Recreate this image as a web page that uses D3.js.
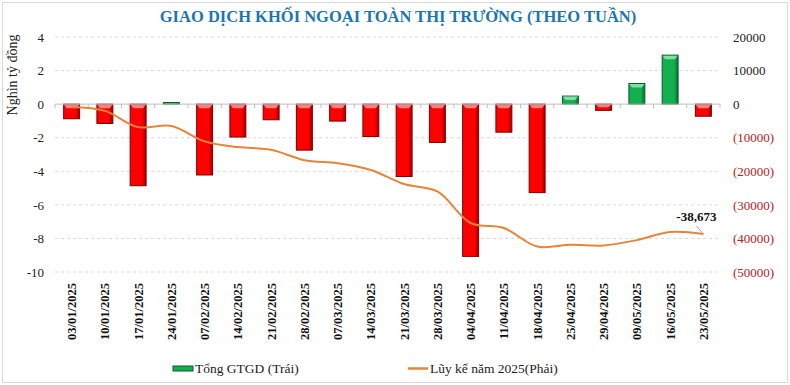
<!DOCTYPE html>
<html>
<head>
<meta charset="utf-8">
<script src="https://cdn.jsdelivr.net/npm/d3@7"></script>
<style>
  html, body { margin: 0; padding: 0; background: #fff; }
  svg { display: block; }
  svg text { font-family: "Liberation Serif", "DejaVu Serif", serif; }
</style>
</head>
<body>
<svg id="chart" width="790" height="385"></svg>
<script>
// weekly data
const weeks = ["03/01/2025", "10/01/2025", "17/01/2025", "24/01/2025", "07/02/2025",
    "14/02/2025", "21/02/2025", "28/02/2025", "07/03/2025", "14/03/2025",
    "21/03/2025", "28/03/2025", "04/04/2025", "11/04/2025", "18/04/2025",
    "25/04/2025", "29/04/2025", "09/05/2025", "16/05/2025", "23/05/2025"];

// Tổng GTGD, nghìn tỷ đồng (left axis)
const netValue = [-0.87, -1.15, -4.86, 0.1, -4.22, -1.96, -0.93, -2.74, -1.01, -1.93,
    -4.31, -2.28, -9.07, -1.67, -5.27, 0.48, -0.37, 1.23, 2.92, -0.72];

// Lũy kế năm 2025, tỷ đồng (right axis)
const cumulative = [-850, -2000, -6850, -6500, -11100, -12800, -13600, -16700, -17600, -19600,
    -23800, -26000, -35400, -36900, -42400, -41900, -42100, -40500, -38100, -38673];

const leftTicks = [4, 2, 0, -2, -4, -6, -8, -10];
const rightTicks = [20000, 10000, 0, -10000, -20000, -30000, -40000, -50000];

const svg = d3.select("#chart");
const W = 790, H = 385;
const plot = { left: 55, right: 720, top: 37, bottom: 272 };
const FONT = "Liberation Serif, DejaVu Serif, serif";

// frame
svg.append("rect")
    .attr("x", 2.5).attr("y", 2.5)
    .attr("width", W - 5).attr("height", H - 5)
    .attr("fill", "#fff").attr("stroke", "#d9d9d9");

// title
svg.append("text")
    .attr("x", 398).attr("y", 22)
    .attr("text-anchor", "middle")
    .attr("font-size", 16.5).attr("font-weight", "bold")
    .attr("fill", "#1b75b3")
    .text("GIAO DỊCH KHỐI NGOẠI TOÀN THỊ TRƯỜNG (THEO TUẦN)");

const x = d3.scaleBand().domain(weeks).range([plot.left, plot.right]).paddingInner(0.52).paddingOuter(0.26);
const xb = d3.scaleBand().domain(weeks).range([plot.left, plot.right]);
const yL = d3.scaleLinear().domain([-10, 4]).range([plot.bottom, plot.top]);
const yR = d3.scaleLinear().domain([-50000, 20000]).range([plot.bottom, plot.top]);

// gridlines
svg.append("g")
    .selectAll("line")
    .data(leftTicks.filter(d => d !== 0))
    .enter().append("line")
    .attr("x1", plot.left).attr("x2", plot.right)
    .attr("y1", d => yL(d)).attr("y2", d => yL(d))
    .attr("stroke", "#d9d9d9").attr("stroke-dasharray", "3,3");

// left axis
const leftAxis = svg.append("g")
    .attr("transform", `translate(${plot.left},0)`)
    .call(d3.axisLeft(yL).tickValues(leftTicks).tickSize(0).tickPadding(11)
        .tickFormat(d => d < 0 ? "-" + (-d) : "" + d));
leftAxis.attr("font-family", FONT);
leftAxis.select(".domain").remove();
leftAxis.selectAll("text").attr("font-size", 13).attr("fill", "#222");

svg.append("text")
    .attr("transform", "translate(17,75) rotate(-90)")
    .attr("text-anchor", "middle")
    .attr("font-size", 14).attr("fill", "#222")
    .text("Nghìn tỷ đồng");

// right axis
const rightAxis = svg.append("g")
    .attr("transform", `translate(${plot.right},0)`)
    .call(d3.axisRight(yR).tickValues(rightTicks).tickSize(0).tickPadding(13)
        .tickFormat(d => d < 0 ? `(${-d})` : `${d}`));
rightAxis.attr("font-family", FONT);
rightAxis.select(".domain").remove();
rightAxis.selectAll("text")
    .attr("font-size", 13)
    .attr("fill", d => d < 0 ? "#b22222" : "#222");

// gradients for bevelled bars
const defs = svg.append("defs");
function barGrad(id, edge, mid) {
    const g = defs.append("linearGradient").attr("id", id).attr("x1", "0").attr("x2", "1");
    g.append("stop").attr("offset", "0").attr("stop-color", mid);
    g.append("stop").attr("offset", "0.75").attr("stop-color", mid);
    g.append("stop").attr("offset", "1").attr("stop-color", edge);
}
barGrad("gRed", "#a00000", "#ff0000");
barGrad("gGreen", "#0a6b34", "#12b04f");

// bars
const bars = svg.append("g")
    .selectAll("g")
    .data(weeks.map((w, i) => ({ week: w, value: netValue[i] })))
    .enter().append("g");

bars.append("rect")
    .attr("x", d => x(d.week))
    .attr("y", d => yL(Math.max(0, d.value)))
    .attr("width", x.bandwidth())
    .attr("height", d => Math.abs(yL(d.value) - yL(0)))
    .attr("fill", d => d.value < 0 ? "url(#gRed)" : "url(#gGreen)")
    .attr("stroke", d => d.value < 0 ? "#7a0000" : "#0b5a2c")
    .attr("stroke-width", 1);

// top bevel highlight
bars.append("path")
    .attr("d", d => {
        const x0 = x(d.week), bw = x.bandwidth();
        const top = yL(Math.max(0, d.value));
        const h = Math.min(4, Math.abs(yL(d.value) - yL(0)) / 2);
        return `M${x0 + 0.5},${top + 0.5}L${x0 + bw - 0.5},${top + 0.5}L${x0 + bw - 3},${top + h}L${x0 + 3},${top + h}Z`;
    })
    .attr("fill", d => d.value < 0 ? "#ff8080" : "#7fe0a0");

// zero line with category ticks
svg.append("line")
    .attr("x1", plot.left).attr("x2", plot.right)
    .attr("y1", yL(0)).attr("y2", yL(0))
    .attr("stroke", "#bfbfbf");
svg.append("g")
    .selectAll("line")
    .data(weeks.concat(["end"]))
    .enter().append("line")
    .attr("x1", (d, i) => plot.left + i * xb.step())
    .attr("x2", (d, i) => plot.left + i * xb.step())
    .attr("y1", yL(0)).attr("y2", yL(0) + 4)
    .attr("stroke", "#bfbfbf");

// cumulative line
const line = d3.line()
    .x((d, i) => xb(weeks[i]) + xb.bandwidth() / 2)
    .y(d => yR(d))
    .curve(d3.curveCatmullRom.alpha(0.5));

svg.append("path")
    .datum(cumulative)
    .attr("d", line)
    .attr("fill", "none")
    .attr("stroke", "#e8843a")
    .attr("stroke-width", 2);

// last value label
const last = cumulative[cumulative.length - 1];
const lastX = xb(weeks[weeks.length - 1]) + xb.bandwidth() / 2;
const lastY = yR(last);
svg.append("line")
    .attr("x1", lastX - 7).attr("y1", lastY - 8)
    .attr("x2", lastX).attr("y2", lastY)
    .attr("stroke", "#a6a6a6");
svg.append("text")
    .attr("x", lastX - 7).attr("y", lastY - 13)
    .attr("text-anchor", "middle")
    .attr("font-size", 13).attr("font-weight", "bold").attr("fill", "#111")
    .text("-" + d3.format(",")(-last));

// x labels
svg.append("g")
    .selectAll("text")
    .data(weeks)
    .enter().append("text")
    .attr("transform", d => `translate(${xb(d) + xb.bandwidth() / 2 + 4.5},283) rotate(-90)`)
    .attr("text-anchor", "end")
    .attr("font-size", 12.5).attr("font-weight", "bold").attr("fill", "#111")
    .text(d => d);

// legend
const legend = svg.append("g").attr("font-size", 13.5).attr("fill", "#222");
legend.append("rect")
    .attr("x", 173).attr("y", 366).attr("width", 20).attr("height", 5)
    .attr("fill", "#12b04f").attr("stroke", "#0b5a2c");
legend.append("text").attr("x", 195).attr("y", 373).text("Tổng GTGD (Trái)");
legend.append("line")
    .attr("x1", 408).attr("x2", 428).attr("y1", 368.5).attr("y2", 368.5)
    .attr("stroke", "#e8843a").attr("stroke-width", 2.5);
legend.append("text").attr("x", 430).attr("y", 373).text("Lũy kế năm 2025(Phải)");
</script>
</body>
</html>
